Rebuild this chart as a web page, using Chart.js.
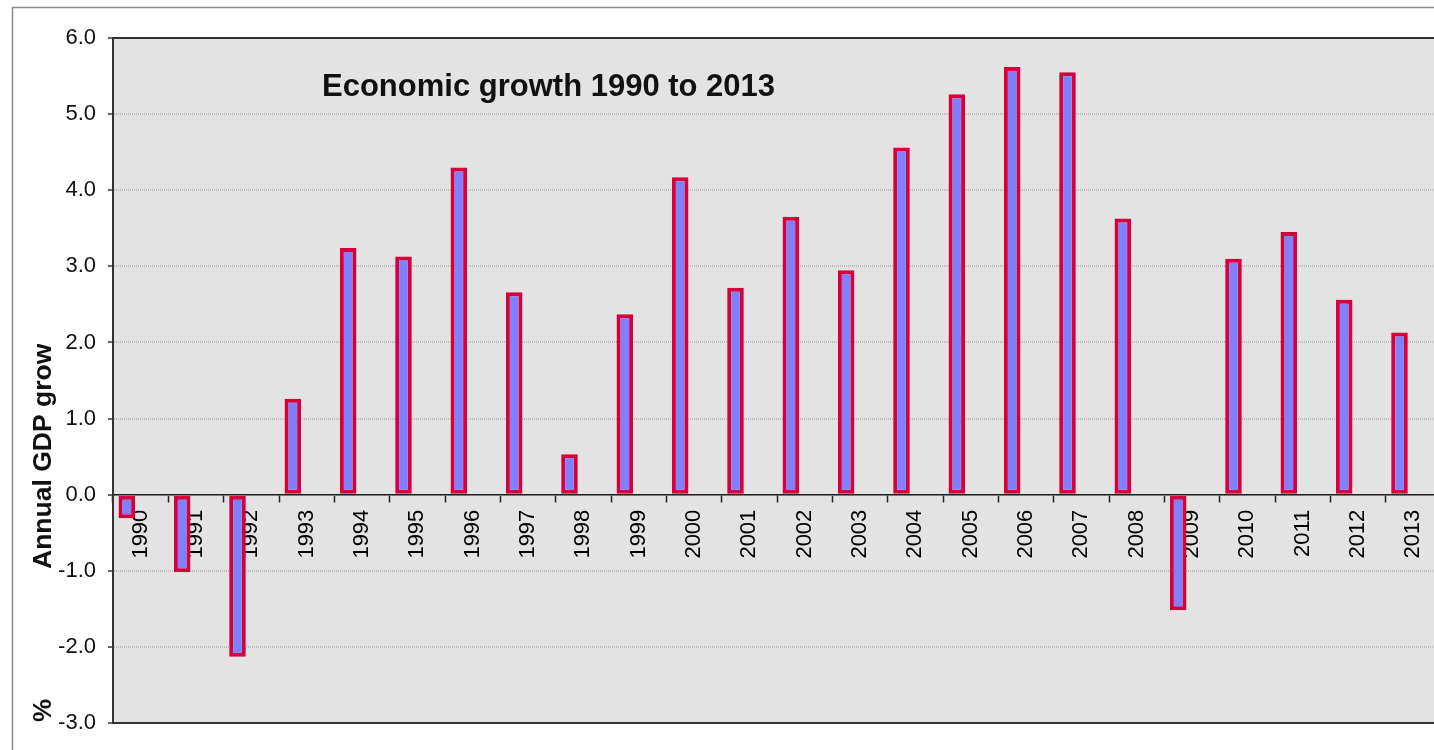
<!DOCTYPE html>
<html>
<head>
<meta charset="utf-8">
<script src="https://cdn.jsdelivr.net/npm/chart.js@4.4.1/dist/chart.umd.min.js"></script>
<style>
  html, body { margin: 0; padding: 0; background: #ffffff; overflow: hidden; }
  #wrap { position: absolute; left: 0; top: 0; width: 1460px; height: 750px; }
</style>
</head>
<body>
<div id="wrap"><canvas id="c" width="1460" height="750"></canvas></div>
<script>
// ---- Data ----
const categories = ['1990','1991','1992','1993','1994','1995','1996','1997','1998','1999','2000','2001',
                    '2002','2003','2004','2005','2006','2007','2008','2009','2010','2011','2012','2013'];
const gdpGrowth = [-0.31, -1.02, -2.13, 1.26, 3.24, 3.13, 4.30, 2.66, 0.53, 2.37, 4.17, 2.72,
                   3.65, 2.95, 4.56, 5.26, 5.62, 5.55, 3.63, -1.52, 3.10, 3.45, 2.56, 2.13];
const emptySeries = [null, null, null, null, null, null, null, null, null, null, null, null,
                     null, null, null, null, null, null, null, null, null, null, null, null];
const yTicks = [-3, -2, -1, 0, 1, 2, 3, 4, 5, 6];
const chartTitle = 'Economic growth 1990 to 2013';
const yTitleMain = 'Annual GDP growth';
const yTitleUnit = '%';

const FONT = '"Liberation Sans", Arial, sans-serif';

const decor = {
  id: 'decor',
  beforeDraw(chart) {
    const { ctx, chartArea: a } = chart;
    ctx.save();
    ctx.strokeStyle = '#8a8a8a';
    ctx.lineWidth = 1.5;
    ctx.strokeRect(12.5, 7.5, 1600, 900);
    ctx.fillStyle = '#e3e3e3';
    ctx.fillRect(a.left, a.top, a.right - a.left, a.bottom - a.top);
    ctx.restore();
  },
  afterDraw(chart) {
    const { ctx, chartArea: a } = chart;
    ctx.save();
    ctx.strokeStyle = '#333333';
    ctx.lineWidth = 2;
    ctx.strokeRect(a.left, a.top, a.right - a.left, a.bottom - a.top);
    ctx.fillStyle = '#111111';
    ctx.font = 'bold 31px ' + FONT;
    ctx.textAlign = 'left';
    ctx.textBaseline = 'alphabetic';
    ctx.fillText(chartTitle, 322, 96);
    ctx.save();
    ctx.beginPath();
    ctx.rect(0, 344, 110, 240);
    ctx.clip();
    ctx.translate(51, 569);
    ctx.rotate(-Math.PI / 2);
    ctx.font = 'bold 26.5px ' + FONT;
    ctx.textAlign = 'left';
    ctx.textBaseline = 'alphabetic';
    ctx.fillText(yTitleMain, 0, 0);
    ctx.restore();
    ctx.save();
    ctx.translate(51, 722);
    ctx.rotate(-Math.PI / 2);
    ctx.font = 'bold 26px ' + FONT;
    ctx.textAlign = 'left';
    ctx.textBaseline = 'alphabetic';
    ctx.fillText(yTitleUnit, 0, 0);
    ctx.restore();
    ctx.restore();
  }
};

new Chart(document.getElementById('c'), {
  type: 'bar',
  data: {
    labels: categories,
    datasets: [
      {
        label: 'Annual GDP growth',
        data: gdpGrowth,
        backgroundColor: '#8080ff',
        borderColor: '#d8003a',
        borderWidth: 4,
        borderSkipped: false,
        categoryPercentage: 1.0,
        barPercentage: 0.6
      },
      {
        label: '',
        data: emptySeries,
        backgroundColor: 'rgba(0,0,0,0)',
        categoryPercentage: 1.0,
        barPercentage: 0.6
      }
    ]
  },
  options: {
    responsive: false,
    animation: false,
    layout: { padding: { left: 0, right: 19, top: 38, bottom: 27 } },
    plugins: {
      legend: { display: false },
      title: { display: false },
      tooltip: { enabled: false }
    },
    scales: {
      x: {
        position: { y: 0 },
        offset: true,
        grid: {
          display: true,
          offset: true,
          drawOnChartArea: false,
          drawTicks: true,
          tickLength: 7,
          tickColor: '#222222',
          tickWidth: 1.5
        },
        border: { display: true, color: '#222222', width: 1.5 },
        ticks: {
          autoSkip: false,
          minRotation: 90,
          maxRotation: 90,
          padding: 8,
          color: '#000000',
          font: { family: FONT, size: 22 }
        }
      },
      y: {
        min: -3,
        max: 6,
        afterFit(scale) { scale.width = 113; },
        afterBuildTicks(scale) { scale.ticks = yTicks.map(v => ({ value: v })); },
        grid: {
          color: '#bdbdbd',
          lineWidth: 2,
          drawTicks: true,
          tickLength: 5,
          tickColor: '#333333',
          tickWidth: 1.5
        },
        border: { display: true, color: '#333333', width: 2, dash: [1, 1] },
        ticks: {
          padding: 12,
          color: '#111111',
          font: { family: FONT, size: 22 },
          callback: (v) => Number(v).toFixed(1)
        }
      }
    }
  },
  plugins: [decor]
});
</script>
</body>
</html>
